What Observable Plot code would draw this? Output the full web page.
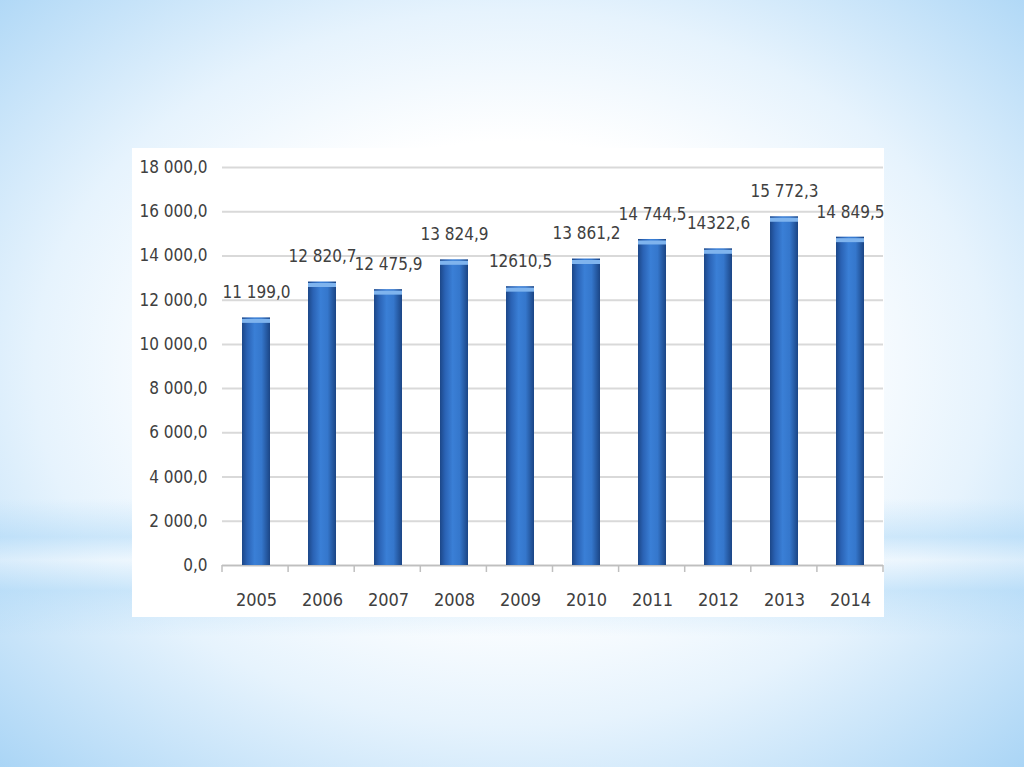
<!DOCTYPE html>
<html>
<head>
<meta charset="utf-8">
<script src="https://cdn.jsdelivr.net/npm/d3@7"></script>
<script src="https://cdn.jsdelivr.net/npm/@observablehq/plot@0.6"></script>
<style>
  html, body { margin: 0; padding: 0; width: 1024px; height: 767px; overflow: hidden; }
  body {
    background:
      linear-gradient(to bottom, rgba(255,255,255,0) 0%, rgba(255,255,255,0) 65%, rgba(160,210,246,0.4) 70%, rgba(255,255,255,0.2) 73%, rgba(160,210,246,0.4) 77%, rgba(255,255,255,0) 83%),
      radial-gradient(ellipse 74% 74% at 50% 48%, #ffffff 40%, #e6f3fd 63%, #a6d3f5 100%);
  }
  #panel {
    position: absolute; left: 132px; top: 148px; width: 752px; height: 469px;
    background: #ffffff;
  }
  #panel svg { display: block; overflow: visible; }
</style>
</head>
<body>
<div id="panel"></div>
<script>
const years = ["2005","2006","2007","2008","2009","2010","2011","2012","2013","2014"];
const values = [11199.0, 12820.7, 12475.9, 13824.9, 12610.5, 13861.2, 14744.5, 14322.6, 15772.3, 14849.5];
const valueLabels = ["11 199,0","12 820,7","12 475,9","13 824,9","12610,5","13 861,2","14 744,5","14322,6","15 772,3","14 849,5"];
const yTicks = [0, 2000, 4000, 6000, 8000, 10000, 12000, 14000, 16000, 18000];

const data = years.map((y, i) => ({year: y, value: values[i], label: valueLabels[i]}));
const ruLocale = d3.formatLocale({decimal: ",", thousands: " ", grouping: [3], currency: ["", ""]});
const fmt = ruLocale.format(",.1f");

const FONT = "'Liberation Sans Narrow', 'DejaVu Sans Condensed', 'Liberation Sans', sans-serif";
const TEXT = "#404040";

const boundaryTicks = (index, scales, values, dim) => {
  const g = d3.create("svg:g").attr("stroke", "#bfbfbf").attr("stroke-width", 1.5);
  const step = (dim.width - dim.marginLeft - dim.marginRight) / years.length;
  const y0 = dim.height - dim.marginBottom;
  for (let i = 0; i <= years.length; i++) {
    const x = dim.marginLeft + i * step;
    g.append("line").attr("x1", x).attr("x2", x).attr("y1", y0).attr("y2", y0 + 7);
  }
  return g.node();
};

const chart = Plot.plot({
  width: 752,
  height: 469,
  marginLeft: 90,
  marginRight: 1,
  marginTop: 19,
  marginBottom: 52,
  style: {fontFamily: FONT, background: "transparent", color: TEXT, overflow: "visible"},
  x: {domain: years, paddingInner: 0.58, paddingOuter: 0.29, label: null},
  y: {domain: [0, 18000], label: null},
  marks: [
    Plot.ruleY(yTicks, {stroke: "#d9d9d9", strokeWidth: 2}),
    Plot.ruleX([0], {frameAnchor: "left", stroke: "#c4c4c4", strokeWidth: 1.5}),
    Plot.ruleY([0], {stroke: "#bfbfbf", strokeWidth: 1.5}),
    boundaryTicks,
    Plot.barY(data, {x: "year", y: "value", fill: "url(#barGrad)"}),
    Plot.tickY(data, {x: "year", y: "value", stroke: "#7fb4ee", strokeWidth: 4, dy: 3}),
    Plot.text(data, {x: "year", y: "value", text: "label", dy: -25, fontSize: 17, fill: TEXT}),
    Plot.axisY({ticks: yTicks, tickFormat: fmt, tickSize: 0, tickPadding: 15, fontSize: 17, fill: TEXT, label: null}),
    Plot.axisX({tickSize: 0, tickPadding: 28, fontSize: 18, fill: TEXT, label: null})
  ]
});

const defs = d3.select(chart).insert("defs", ":first-child");
const grad = defs.append("linearGradient").attr("id", "barGrad")
  .attr("x1", "0%").attr("x2", "100%").attr("y1", "0%").attr("y2", "0%");
[["0%", "#1c4788"], ["18%", "#2a62b4"], ["45%", "#3a7fd6"], ["70%", "#3577cc"], ["100%", "#1b4585"]]
  .forEach(([o, c]) => grad.append("stop").attr("offset", o).attr("stop-color", c));

document.getElementById("panel").appendChild(chart);
</script>
</body>
</html>
